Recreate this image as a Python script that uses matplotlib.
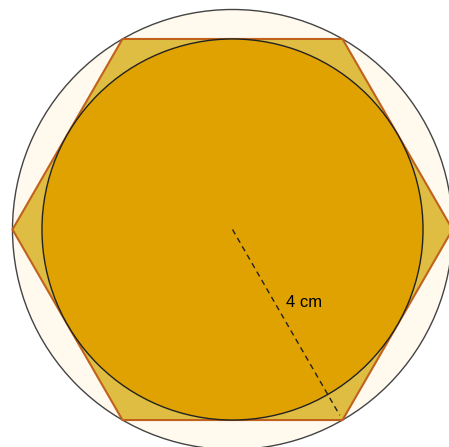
import matplotlib
matplotlib.use("Agg")
import matplotlib.pyplot as plt
import numpy as np
from matplotlib.patches import Circle, RegularPolygon

# geometry in cm
hex_radius = 4.0                       # circumradius of hexagon = outer circle radius
inner_radius = hex_radius * np.cos(np.pi / 6)   # inscribed circle
dash_length = 3.9
dash_angle_deg = -60
label_text = "4 cm"
label_pos = (1.3, -1.33)

fig = plt.figure(figsize=(4.49, 4.47), dpi=100)
ax = fig.add_axes([0, 0, 1, 1])

# outer circle
ax.add_patch(Circle((0, 0), hex_radius, facecolor="#fff9ee", edgecolor="#444444", linewidth=1.0, zorder=1))

# hexagon (vertex left and right)
ax.add_patch(RegularPolygon((0, 0), numVertices=6, radius=hex_radius, orientation=np.pi / 6,
                            facecolor="#dfbd42", edgecolor="#c0611c", linewidth=1.5, zorder=2))

# inner circle
ax.add_patch(Circle((0, 0), inner_radius, facecolor="#e0a200", edgecolor="#222222", linewidth=1.0, zorder=3))

# dashed radius
ang = np.deg2rad(dash_angle_deg)
ax.plot([0, dash_length * np.cos(ang)], [0, dash_length * np.sin(ang)],
        linestyle=(0, (4, 3)), color="#222222", linewidth=1.0, zorder=4)

ax.text(label_pos[0], label_pos[1], label_text, fontsize=12, color="black",
        family="Liberation Sans", ha="center", va="center", zorder=5)

scale = 55.0
ax.set_xlim(-232.5 / scale, (449 - 232.5) / scale)
ax.set_ylim(-(447 - 229.5) / scale, 229.5 / scale)
ax.set_aspect("equal")
ax.axis("off")

fig.savefig("out.png", dpi=100)
